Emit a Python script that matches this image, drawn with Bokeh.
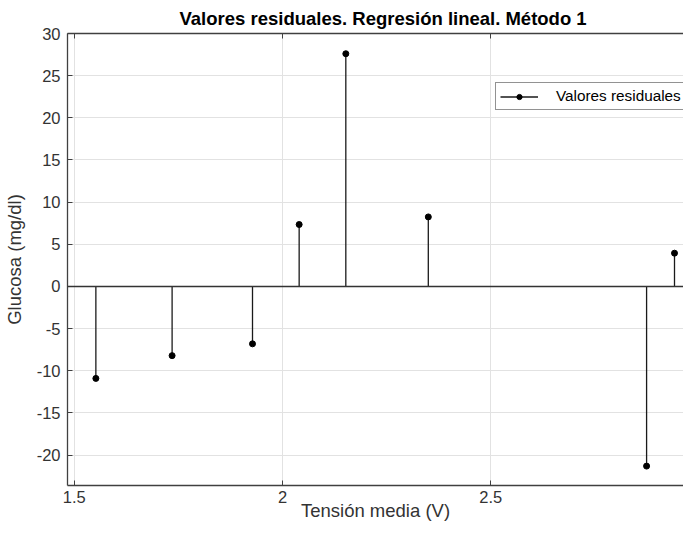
from bokeh.plotting import figure
from bokeh.models import (Range1d, LinearAxis, Span, Legend, LegendItem,
                          FixedTicker, NumeralTickFormatter, CustomJSTickFormatter)
from bokeh.embed import file_html
from bokeh.resources import INLINE

# data
tension = [1.552, 1.735, 1.928, 2.040, 2.152, 2.350, 2.874, 2.941]
residuals = [-10.9, -8.2, -6.8, 7.35, 27.6, 8.25, -21.3, 3.95]
x_ticks = [1.5, 2.0, 2.5, 3.0]
y_ticks = [-20, -15, -10, -5, 0, 5, 10, 15, 20, 25, 30]
baseline = [0.0 for _ in tension]

FONT = "Liberation Sans"
AX = "#404040"
TXT = "#333333"

p = figure(frame_width=616, frame_height=452, output_backend="svg",
           toolbar_location=None,
           x_range=Range1d(1.4839, 2.9626), y_range=Range1d(-23.6, 30),
           min_border_left=65, min_border_right=0, min_border_top=30,
           min_border_bottom=44, outline_line_color=None)
p.background_fill_color = "white"
p.border_fill_color = "white"

# title
p.title.text = "Valores residuales. Regresión lineal. Método 1"
p.title.text_font = FONT
p.title.text_font_style = "bold"
p.title.text_font_size = "18.5px"
p.title.text_color = "#000000"
p.title.align = "left"
p.title.offset = 112

# axes
for ax in (p.xaxis[0], p.yaxis[0]):
    ax.axis_line_color = AX
    ax.axis_line_width = 1.3
    ax.major_tick_line_color = AX
    ax.major_tick_in = 5
    ax.major_tick_out = 0
    ax.minor_tick_line_color = None
    ax.major_label_text_font = FONT
    ax.major_label_text_font_size = "16.5px"
    ax.major_label_text_color = TXT
    ax.axis_label_text_font = FONT
    ax.axis_label_text_font_size = "18.5px"
    ax.axis_label_text_font_style = "normal"
    ax.axis_label_text_color = TXT

p.xaxis.ticker = FixedTicker(ticks=x_ticks)
p.xaxis.formatter = NumeralTickFormatter(format="0.[0]")
p.xaxis.axis_label = "Tensión media (V)"
p.xaxis.major_label_standoff = 5
p.xaxis.axis_label_standoff = -6

p.yaxis.ticker = FixedTicker(ticks=y_ticks)
p.yaxis.formatter = NumeralTickFormatter(format="0")
p.yaxis.axis_label = "Glucosa (mg/dl)"
p.yaxis.major_label_standoff = 7
p.yaxis.axis_label_standoff = 9

top_axis = LinearAxis(ticker=FixedTicker(ticks=x_ticks),
                      formatter=CustomJSTickFormatter(code="return ''"),
                      major_label_standoff=0,
                      major_tick_in=5, major_tick_out=0,
                      axis_line_color=AX, axis_line_width=1.3,
                      major_tick_line_color=AX, minor_tick_line_color=None)
p.add_layout(top_axis, "above")

# grid
p.xgrid.grid_line_color = "#e2e2e2"
p.ygrid.grid_line_color = "#e2e2e2"
p.xgrid.grid_line_width = 1
p.ygrid.grid_line_width = 1

# baseline
p.add_layout(Span(location=0, dimension="width", line_color="#333333",
                  line_width=1.6))

# stems
seg = p.segment(x0=tension, y0=baseline, x1=tension, y1=residuals,
                line_color="#1a1a1a", line_width=1.3)
dots = p.scatter(x=tension, y=residuals, size=6, marker="circle",
                 fill_color="#000000", line_color="#000000")

legend = Legend(items=[LegendItem(label="Valores residuales", renderers=[seg, dots])],
                location=(428, 375))
legend.border_line_color = "#262626"
legend.border_line_width = 1
legend.background_fill_color = "white"
legend.background_fill_alpha = 1
legend.padding = 4
legend.margin = 0
legend.spacing = 0
legend.glyph_width = 38
legend.glyph_height = 13
legend.label_standoff = 18
legend.label_text_font = FONT
legend.label_text_font_size = "15.3px"
legend.label_text_color = "#000000"
p.add_layout(legend)

open("out.html", "w").write(file_html(p, INLINE))
